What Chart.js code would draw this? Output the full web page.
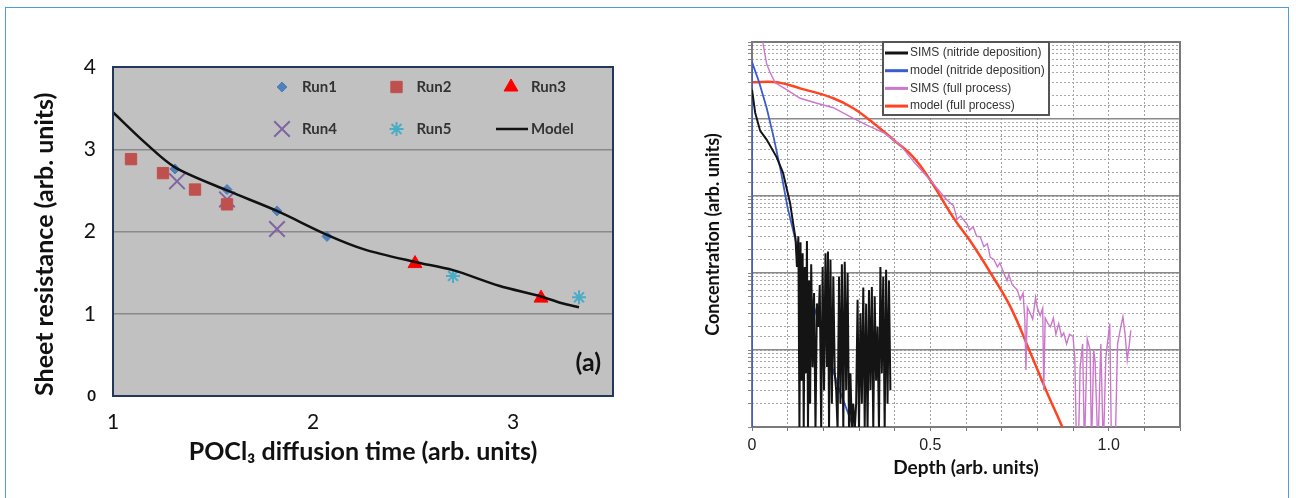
<!DOCTYPE html>
<html>
<head>
<meta charset="utf-8">
<script src="https://cdn.jsdelivr.net/npm/chart.js@4.4.1/dist/chart.umd.min.js"></script>
<style>
  body { margin: 0; background: #fff; }
  #wrap { position: relative; width: 1296px; height: 498px; overflow: hidden; }
  #frame { position: absolute; left: 5px; top: 7px; width: 1282px; height: 520px; border: 1.5px solid #4a9fdc; }
  #left { position: absolute; left: 0; top: 0; }
  #right { position: absolute; left: 650px; top: 0; }
</style>
</head>
<body>
<div id="wrap">
  <div id="frame"></div>
  <canvas id="left" width="650" height="498"></canvas>
  <canvas id="right" width="646" height="498"></canvas>
</div>
<script>
// 🔹 PANEL (a) DATA : sheet resistance vs diffusion time
const run1X = [1.31, 1.57, 1.82, 2.07];
const run1Y = [2.76, 2.51, 2.25, 1.94];
const run2X = [1.09, 1.25, 1.41, 1.57];
const run2Y = [2.88, 2.71, 2.51, 2.33];
const run3X = [2.51, 3.14];
const run3Y = [1.61, 1.19];
const run4X = [1.32, 1.57, 1.82];
const run4Y = [2.61, 2.39, 2.03];
const run5X = [2.70, 3.33];
const run5Y = [1.46, 1.20];
const modelX = [1.00, 1.16, 1.31, 1.58, 1.82, 2.07, 2.26, 2.51, 2.70, 2.93, 3.14, 3.24, 3.33];
const modelY = [3.45, 3.08, 2.78, 2.49, 2.25, 1.96, 1.78, 1.63, 1.53, 1.34, 1.21, 1.13, 1.08];
const leftXTicks = [1, 2, 3];

// 🔹 PANEL (b) DATA : concentration profiles vs depth
const simsNitrideDepth = [
  0.000, 0.009, 0.023, 0.041, 0.069, 0.087, 0.107, 0.115, 0.122, 0.126,
  0.130, 0.133, 0.136, 0.139, 0.142, 0.145, 0.148, 0.151, 0.154, 0.157,
  0.160, 0.163, 0.166, 0.170, 0.174, 0.178, 0.182, 0.186, 0.190, 0.194,
  0.198, 0.202, 0.206, 0.210, 0.213, 0.216, 0.220, 0.224, 0.228, 0.232,
  0.236, 0.240, 0.244, 0.248, 0.252, 0.256, 0.260, 0.264, 0.268, 0.272,
  0.276, 0.280, 0.284, 0.288, 0.292, 0.296, 0.300, 0.304, 0.308, 0.312,
  0.316, 0.320, 0.324, 0.328, 0.332, 0.336, 0.340, 0.344, 0.348, 0.352,
  0.356, 0.360, 0.364, 0.368, 0.372, 0.376, 0.380, 0.384, 0.388];
const simsNitrideConc = [
  2.4e19, 1.2e19, 7.0e18, 5.4e18, 3.2e18, 2.0e18, 8.0e17, 4.5e17, 2.8e17, 1.2e17,
  3.0e17, 9e14, 2.5e17, 4e15, 1.8e17, 9e14, 1.2e17, 5e15, 2.6e17, 9e14,
  8e16, 2e15, 1.3e17, 6e15, 5.5e16, 9e14, 4e16, 2e16, 7e16, 9e14,
  1.2e17, 3e15, 1.8e17, 6e15, 1.9e17, 9e14, 1.5e17, 2e15, 9e16, 5e15,
  3e15, 9e14, 9e16, 2e15, 1.3e17, 9e14, 1.4e17, 3e15, 1.0e17, 9e14,
  5e15, 9e14, 2e15, 9e14, 2e15, 4.5e16, 9e14, 3e16, 2e15, 6.5e16,
  1e15, 4e16, 9e14, 6e16, 3e15, 6.6e16, 9e14, 5e16, 4e15, 2e16,
  9e14, 1.2e17, 5e15, 9e16, 9e14, 1.1e17, 2e15, 8e16, 3e15];

const modelNitrideDepth = [0.000, 0.000, 0.020, 0.041, 0.060, 0.080, 0.100, 0.140, 0.191, 0.240, 0.284, 0.300];
const modelNitrideConc = [1e14, 5.5e19, 3.0e19, 1.4e19, 6.0e18, 2.2e18, 7.0e17, 1.2e17, 2.0e16, 3.5e15, 1.0e15, 5.0e14];

const simsFullDepth = [
  0.030, 0.041, 0.051, 0.065, 0.097, 0.135, 0.182, 0.228, 0.275, 0.322,
  0.370, 0.416, 0.453, 0.500, 0.545, 0.565, 0.575, 0.585, 0.593, 0.603,
  0.610, 0.620, 0.630, 0.640, 0.650, 0.660, 0.668, 0.678, 0.688, 0.695,
  0.706, 0.715, 0.720, 0.730, 0.744, 0.752, 0.760, 0.765, 0.768, 0.772,
  0.780, 0.787, 0.795, 0.800, 0.808, 0.815, 0.818, 0.822, 0.830, 0.837,
  0.845, 0.852, 0.860, 0.868, 0.874, 0.882, 0.890, 0.900, 0.905, 0.910,
  0.915, 0.920, 0.927, 0.932, 0.940, 0.948, 0.952, 0.958, 0.962, 0.970,
  0.978, 0.985, 0.992, 1.003, 1.008, 1.018, 1.025, 1.034, 1.040, 1.046,
  1.052, 1.058, 1.062];
const simsFullConc = [
  1.0e20, 5.2e19, 4.0e19, 2.95e19, 2.4e19, 1.86e19, 1.6e19, 1.4e19, 1.07e19, 8.3e18,
  6.6e18, 4.6e18, 2.8e18, 1.6e18, 9.0e17, 7.5e17, 5.0e17, 5.5e17, 4.9e17, 4.3e17,
  3.6e17, 4.0e17, 3.0e17, 2.95e17, 2.2e17, 2.4e17, 1.6e17, 1.5e17, 1.2e17, 1.35e17,
  1.0e17, 8e16, 9.5e16, 7e16, 6.0e16, 4.5e16, 5.5e16, 2.5e16, 5.5e15, 3.6e16,
  3.0e16, 2.5e16, 4.8e16, 3.5e16, 2.8e16, 3.5e16, 3e15, 2.6e16, 2.2e16, 2.0e16,
  2.6e16, 1.6e16, 2.2e16, 1.5e16, 1.66e16, 1.2e16, 1.6e16, 1.5e16, 8e15, 5e14,
  5e14, 6e15, 1.2e16, 5e14, 1.4e16, 1.0e16, 5e14, 1.0e16, 7e15, 5e14,
  1.2e16, 5e14, 8e15, 2.2e16, 5e14, 5e14, 1.2e16, 2.0e16, 2.7e16, 1.6e16,
  7.4e15, 1.2e16, 1.8e16];

const modelFullDepth = [0.000, 0.070, 0.135, 0.228, 0.284, 0.340, 0.396, 0.452, 0.500, 0.565, 0.612, 0.669, 0.725, 0.781, 0.828, 0.870, 0.900];
const modelFullConc = [3.0e19, 3.0e19, 2.5e19, 1.86e19, 1.38e19, 8.9e18, 5.4e18, 3.2e18, 1.6e18, 5.2e17, 2.6e17, 1.0e17, 3.6e16, 9.1e15, 2.75e15, 1.0e15, 4.5e14];
const rightXLabels = [0, 0.5, 1.0];

const pts = (xs, ys) => xs.map((x, i) => ({ x: x, y: ys[i] }));
const isDecade = v => Math.abs(Math.log10(v) - Math.round(Math.log10(v))) < 1e-6;

Chart.defaults.font.family = "Lato, sans-serif";
Chart.defaults.animation = false;


// 🔹 LEFT PANEL PLUGIN (grey plot area, frame, legend, panel tag)
const leftDecor = {
  id: "leftDecor",
  beforeDraw(chart) {
    const { ctx, chartArea: a } = chart;
    ctx.save();
    ctx.fillStyle = "#c1c1c1";
    ctx.fillRect(a.left, a.top, a.width, a.height);
    ctx.restore();
  },
  afterDraw(chart) {
    const { ctx, chartArea: a } = chart;
    ctx.save();
    ctx.strokeStyle = "#22375a";
    ctx.lineWidth = 2;
    ctx.strokeRect(a.left, a.top, a.width, a.height);

    // legend, 3 columns x 2 rows inside the plot
    chart.data.datasets.forEach((ds, i) => {
      const mx = a.left + 169 + (i % 3) * 114.5;
      const my = a.top + 20 + Math.floor(i / 3) * 42;
      if (ds.showLine) {
        ctx.strokeStyle = ds.borderColor;
        ctx.lineWidth = ds.borderWidth;
        ctx.beginPath();
        ctx.moveTo(mx - 15, my);
        ctx.lineTo(mx + 17, my);
        ctx.stroke();
      } else {
        ctx.fillStyle = ds.backgroundColor;
        ctx.strokeStyle = ds.borderColor;
        ctx.lineWidth = ds.borderWidth;
        Chart.helpers.drawPoint(ctx, { pointStyle: ds.pointStyle, radius: ds.pointRadius, borderWidth: ds.borderWidth, rotation: 0 }, mx, my);
      }
      ctx.fillStyle = "#333";
      ctx.font = "bold 15px Lato";
      ctx.textBaseline = "middle";
      ctx.textAlign = "left";
      ctx.fillText(ds.label, mx + 20, my);
    });

    ctx.fillStyle = "#111";
    ctx.font = "bold 25px Lato";
    ctx.textAlign = "right";
    ctx.textBaseline = "middle";
    ctx.fillText("(a)", a.right - 12, a.top + 296);
    ctx.restore();
  }
};

new Chart(document.getElementById("left"), {
  type: "scatter",
  data: {
    datasets: [
      { label: "Run1", data: pts(run1X, run1Y), pointStyle: "rectRot", pointRadius: 5, backgroundColor: "#4f81bd", borderColor: "#4f81bd", borderWidth: 1 },
      { label: "Run2", data: pts(run2X, run2Y), pointStyle: "rect", pointRadius: 8, backgroundColor: "#c0504d", borderColor: "#c0504d", borderWidth: 1 },
      { label: "Run3", data: pts(run3X, run3Y), pointStyle: "triangle", pointRadius: 8, backgroundColor: "#ff0000", borderColor: "#ff0000", borderWidth: 1 },
      { label: "Run4", data: pts(run4X, run4Y), pointStyle: "crossRot", pointRadius: 11, backgroundColor: "#8064a2", borderColor: "#8064a2", borderWidth: 2 },
      { label: "Run5", data: pts(run5X, run5Y), pointStyle: "star", pointRadius: 7, backgroundColor: "#4bacc6", borderColor: "#4bacc6", borderWidth: 2 },
      { label: "Model", data: pts(modelX, modelY), showLine: true, pointRadius: 0, borderColor: "#111", backgroundColor: "#111", borderWidth: 2.5, tension: 0.3, order: -1 }
    ]
  },
  options: {
    responsive: false,
    devicePixelRatio: 1,
    events: [],
    layout: { padding: { left: 20, top: 67, right: 37, bottom: 30 } },
    plugins: { legend: { display: false }, tooltip: { enabled: false } },
    scales: {
      x: {
        type: "linear", min: 1, max: 3.5,
        afterFit: s => { s.height = 72; },
        ticks: {
          stepSize: 0.25, autoSkip: false, maxRotation: 0, padding: 14, color: "#111", font: { size: 21 },
          callback: v => leftXTicks.includes(v) ? String(v) : ""
        },
        grid: { display: false, drawTicks: false },
        border: { display: false },
        title: { display: true, text: "POCl₃ diffusion time (arb. units)", color: "#111", font: { size: 25, weight: "bold" }, padding: { top: 0, bottom: 1 } }
      },
      y: {
        min: 0, max: 4,
        afterFit: s => { s.width = 93; },
        ticks: {
          stepSize: 1, padding: 17, color: "#111",
          font: c => (c.tick && c.tick.value === 0) ? { size: 15, weight: "bold" } : { size: 21 }
        },
        grid: {
          drawTicks: false, lineWidth: 1.5,
          color: c => (c.tick && (c.tick.value === 0 || c.tick.value === 4)) ? "rgba(0,0,0,0)" : "#8a8a8a"
        },
        border: { display: false },
        title: { display: true, align: "start", text: "Sheet resistance (arb. units)", color: "#111", font: { size: 25, weight: "bold" }, padding: { top: 10, bottom: 0 } }
      }
    }
  },
  plugins: [leftDecor]
});


// 🔹 RIGHT PANEL PLUGIN (frame + boxed legend)
const rightDecor = {
  id: "rightDecor",
  beforeDatasetsDraw(chart) {
    const { ctx, chartArea: a } = chart;
    ctx.save();
    ctx.strokeStyle = "#7a7a7a";
    ctx.lineWidth = 2;
    ctx.strokeRect(a.left, a.top, a.width, a.height);
    ctx.restore();
  },
  afterDraw(chart) {
    const { ctx, chartArea: a } = chart;
    ctx.save();
    const bx = a.left + 131, by = a.top, bw = 166, bh = 73;
    ctx.fillStyle = "#fff";
    ctx.fillRect(bx, by, bw, bh);
    ctx.strokeStyle = "#555";
    ctx.lineWidth = 2;
    ctx.strokeRect(bx, by, bw, bh);
    chart.data.datasets.forEach((ds, i) => {
      const y = by + 11 + i * 17.7;
      ctx.strokeStyle = ds.borderColor;
      ctx.lineWidth = 3;
      ctx.beginPath();
      ctx.moveTo(bx + 2, y);
      ctx.lineTo(bx + 25, y);
      ctx.stroke();
      ctx.fillStyle = "#333";
      ctx.font = "12px 'Liberation Sans'";
      ctx.textBaseline = "middle";
      ctx.fillText(ds.label, bx + 27, y);
    });
    ctx.restore();
  }
};

new Chart(document.getElementById("right"), {
  type: "scatter",
  data: {
    datasets: [
      { label: "SIMS (nitride deposition)", data: pts(simsNitrideDepth, simsNitrideConc), showLine: true, pointRadius: 0, borderColor: "#141414", borderWidth: 2 },
      { label: "model (nitride deposition)", data: pts(modelNitrideDepth, modelNitrideConc), showLine: true, pointRadius: 0, borderColor: "#3b5ccc", borderWidth: 1.8 },
      { label: "SIMS (full process)", data: pts(simsFullDepth, simsFullConc), showLine: true, pointRadius: 0, borderColor: "#cc77cc", borderWidth: 1.4 },
      { label: "model (full process)", data: pts(modelFullDepth, modelFullConc), showLine: true, pointRadius: 0, borderColor: "#ff4422", borderWidth: 2.5, tension: 0.4 }
    ]
  },
  options: {
    responsive: false,
    devicePixelRatio: 1,
    events: [],
    layout: { padding: { left: 40, top: 42, right: 116, bottom: 19 } },
    plugins: { legend: { display: false }, tooltip: { enabled: false } },
    scales: {
      x: {
        type: "linear", min: 0, max: 1.2,
        afterFit: s => { s.height = 52; },
        ticks: {
          stepSize: 0.1, autoSkip: false, maxRotation: 0, padding: 5, color: "#222",
          font: { family: "'Liberation Sans', Arial, sans-serif", size: 16 },
          callback: v => {
            const hit = rightXLabels.find(t => Math.abs(t - v) < 1e-6);
            if (hit === undefined) return "";
            return hit === 0 ? "0" : hit.toFixed(1);
          }
        },
        grid: { color: "#a0a0a0", lineWidth: 1, tickLength: 4, tickColor: "#777", borderDash: [2, 2] },
        border: { display: false, dash: [2, 2] },
        title: { display: true, text: "Depth (arb. units)", color: "#111", font: { size: 19, weight: "bold" }, padding: { top: 0, bottom: 0 } }
      },
      y: {
        type: "logarithmic", min: 1e15, max: 1e20,
        afterFit: s => { s.width = 62; },
        ticks: { autoSkip: false, padding: 0, callback: () => "" },
        grid: { color: "#a8a8a8", lineWidth: 1, tickLength: 4, tickColor: "#888", borderDash: [2, 2] },
        border: { display: false, dash: [2, 2] },
        title: { display: true, text: "Concentration (arb. units)", color: "#111", font: { size: 18, weight: "bold" }, padding: { top: 12, bottom: 0 } }
      },
      y2: {
        type: "logarithmic", position: "right", min: 1e15, max: 1e20,
        afterFit: s => { s.width = 0; },
        afterBuildTicks: s => { s.ticks = s.ticks.filter(t => isDecade(t.value)); },
        ticks: { display: false },
        grid: { color: "#8a8a8a", lineWidth: 1.5, drawTicks: false },
        border: { display: false }
      }
    }
  },
  plugins: [rightDecor]
});
</script>
</body>
</html>
